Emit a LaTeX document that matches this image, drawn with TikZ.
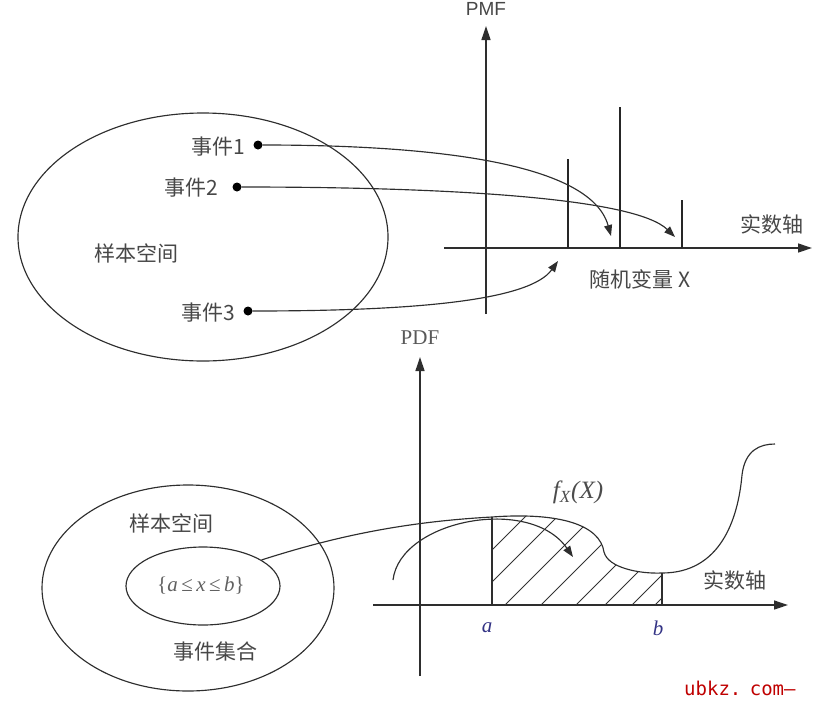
\documentclass[tikz,border=0pt]{standalone}
\usepackage{fontspec}
\setmainfont{Liberation Serif}
\newfontfamily\cjk{Noto Sans CJK SC}
\newfontfamily\lsans{Liberation Sans}
\newfontfamily\wmono{DejaVu Sans Mono}
\usetikzlibrary{shapes.geometric,arrows.meta}
\begin{document}
\begin{tikzpicture}[x=1pt,y=-1pt,
  ln/.style={draw=black!82, line width=1.15pt},
  axisln/.style={draw=black!82, line width=1.3pt, -{Triangle[length=14pt,width=9pt]}},
  barln/.style={draw=black!85, line width=2.4pt},
  arr/.style={ln, -{Triangle[length=11pt,width=8pt]}},
  hatchln/.style={draw=black!80, line width=0.9pt},
  cn/.style={font=\cjk\fontsize{21}{24}\selectfont, text=black!72, inner sep=0pt},
  dotnode/.style={circle, fill=black, inner sep=0pt, minimum size=9pt},
  oval/.style={ellipse, ln, inner sep=0pt},
  mathlbl/.style={font=\fontsize{21}{24}\selectfont\itshape, text=black!70, inner sep=0pt}
]
\useasboundingbox (0,0) rectangle (814,702);

% ---------- top: sample space ----------
\node[oval, minimum width=370pt, minimum height=248pt] (S1) at (203,237) {};
\node[cn] (ss1) at (136,253) {样本空间};
\node[cn, anchor=east] (e1) at (245,147) {事件1};
\node[cn, anchor=east] (e2) at (218,188) {事件2};
\node[cn, anchor=east] (e3) at (235,313) {事件3};
\node[dotnode] (d1) at (258,145) {};
\node[dotnode] (d2) at (237,187) {};
\node[dotnode] (d3) at (248,311) {};

% ---------- top: PMF axes ----------
\coordinate (pmfB) at (486,314);
\coordinate (pmfT) at (486,26);
\coordinate (xL) at (444,248);
\coordinate (xR) at (812,248);
\draw[axisln] (pmfB) -- (pmfT);
\draw[axisln] (xL) -- (xR);
\node[font=\lsans\fontsize{19}{22}\selectfont, text=black!72, inner sep=0pt] (pmf) at (486,9) {PMF};
\node[cn] (ax1) at (772,224) {实数轴};
\node[cn] (rv) at (640,279) {随机变量 X};

\coordinate (b1) at (568,248); \coordinate (b1t) at (568,159);
\coordinate (b2) at (620,248); \coordinate (b2t) at (620,107);
\coordinate (b3) at (682,248); \coordinate (b3t) at (682,200);
\draw[barln] (b1) -- (b1t);
\draw[barln] (b2) -- (b2t);
\draw[barln] (b3) -- (b3t);

\coordinate (t1) at (611,236);
\coordinate (t2) at (675,237);
\coordinate (t3) at (558,261);
\draw[arr] (d1) .. controls (420,145) and (590,160) .. (t1);
\draw[arr] (d2) .. controls (450,187) and (635,198) .. (t2);
\draw[arr] (d3) .. controls (420,311) and (530,300) .. (t3);

% ---------- bottom: sample space ----------
\node[oval, minimum width=292pt, minimum height=206pt] (S2) at (188,588) {};
\node[oval, minimum width=154pt, minimum height=78pt] (inner) at (203,586) {};
\node[cn] (ss2) at (171,523) {样本空间};
\node[cn] (evs) at (215,652) {事件集合};
\node[font=\fontsize{21}{24}\selectfont, text=black!62, inner sep=0pt] (setab) at (201,586)
  {\{\textit{a}\,≤\,\textit{x}\,≤\,\textit{b}\}};

% ---------- bottom: PDF axes ----------
\coordinate (pdfB) at (420,676);
\coordinate (pdfT) at (420,357);
\coordinate (yL) at (373,605);
\coordinate (yR) at (788,605);
\draw[axisln] (pdfB) -- (pdfT);
\draw[axisln] (yL) -- (yR);
\node[font=\fontsize{21}{24}\selectfont, text=black!65, inner sep=0pt] (pdf) at (420,338) {PDF};
\node[cn] (ax2) at (735,580) {实数轴};

\coordinate (pa) at (492,517);
\coordinate (pi) at (604,552);
\coordinate (pb) at (662,573);
\coordinate (pr) at (742,475);
\coordinate (pe) at (775,444);
\coordinate (a0) at (492,605);
\coordinate (b0) at (662,605);

% hatching
\begin{scope}
  \clip (a0) -- (pa) .. controls (560,512) and (600,525) .. (pi)
        .. controls (608,568) and (640,574) .. (pb) -- (b0) -- cycle;
  \foreach \c in {437,469,505,541,576,605,632,655}
    \draw[hatchln] (\c,605) -- ++(140,-140);
\end{scope}

\draw[ln] (a0) -- (pa);
\draw[ln] (b0) -- (pb);

% density curve (from the event set)
\draw[ln] (inner.24) .. controls (330,538) and (400,522) .. (pa)
  .. controls (560,512) and (600,525) .. (pi)
  .. controls (608,568) and (640,574) .. (pb)
  .. controls (720,573) and (738,520) .. (pr)
  .. controls (745,450) and (760,444) .. (pe);

% area arrow
\coordinate (arcS) at (393,580);
\coordinate (arcE) at (573,557);
\draw[arr] (arcS) .. controls (400,520) and (530,495) .. (arcE);

\node[mathlbl, font=\fontsize{25}{28}\selectfont\itshape] (fx) at (578,492) {f\raisebox{-0.4ex}{\fontsize{17}{19}\selectfont X}\kern1pt(X)};
\node[mathlbl, text=black!60!blue!80] (la) at (487,628) {a};
\node[mathlbl, text=black!60!blue!80] (lb) at (658,628) {b};

% watermark
\node[font=\wmono\fontsize{19}{22}\selectfont, text=red!75!black, inner sep=0pt, anchor=west] (wm) at (684,688) {ubkz.\kern-3pt\ com—};
\end{tikzpicture}
\end{document}
